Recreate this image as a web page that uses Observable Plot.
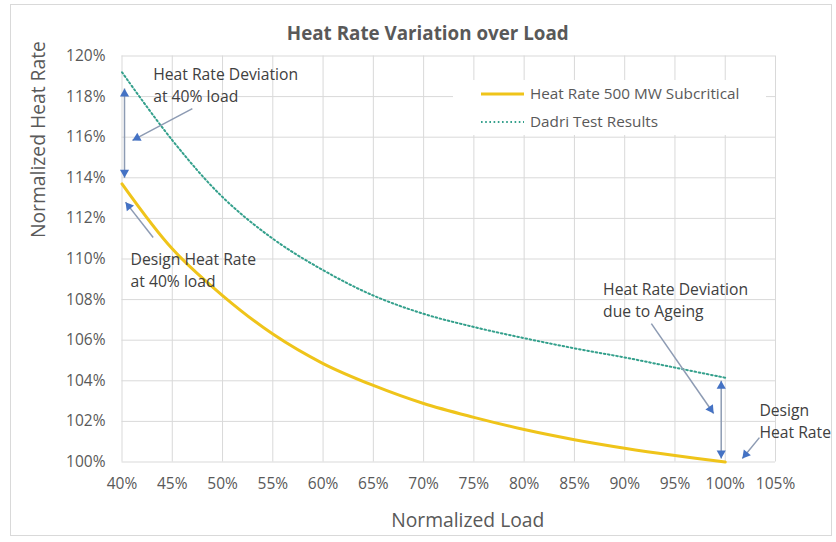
<!DOCTYPE html>
<html>
<head>
<meta charset="utf-8">
<script src="https://cdn.jsdelivr.net/npm/d3@7"></script>
<script src="https://cdn.jsdelivr.net/npm/@observablehq/plot@0.6"></script>
<style>
  html, body { margin: 0; padding: 0; background: #fff; }
  #wrap { position: relative; width: 836px; height: 542px; background: #fff; font-family: "Open Sans", sans-serif; }
  #border { position: absolute; left: 10px; top: 4px; width: 822px; height: 532px; border: 1px solid #d9d9d9; box-sizing: border-box; pointer-events: none; }
  #legend { position: absolute; left: 453px; top: 80px; width: 313px; height: 55px; background: #fff; }
  #legend svg { display: block; }
</style>
</head>
<body>
<div id="wrap"><div id="border"></div></div>
<script>
// ---- data ----
const load = [40, 45, 50, 55, 60, 65, 70, 75, 80, 85, 90, 95, 100];
const heatRate500 = [113.7, 110.5, 108.2, 106.3, 104.85, 103.77, 102.88, 102.2, 101.6, 101.1, 100.68, 100.32, 100.0];
const dadriTest = [119.2, 115.85, 113.05, 111.0, 109.45, 108.2, 107.3, 106.65, 106.1, 105.6, 105.15, 104.65, 104.15];

const seriesNames = ["Heat Rate 500 MW Subcritical", "Dadri Test Results"];
const xTicks = [40, 45, 50, 55, 60, 65, 70, 75, 80, 85, 90, 95, 100, 105];
const yTicks = [100, 102, 104, 106, 108, 110, 112, 114, 116, 118, 120];

const titleText = "Heat Rate Variation over Load";
const xTitle = "Normalized Load";
const yTitle = "Normalized Heat Rate";

// annotation arrows (data units: load %, heat rate %)
const arrowFromLoad = [40.25, 47.0, 43.1, 99.6, 92.65, 103.4];
const arrowFromRate = [114.0, 117.41, 111.06, 100.17, 106.82, 101.2];
const arrowToLoad   = [40.25, 41.04, 40.35, 99.6, 98.85, 101.7];
const arrowToRate   = [118.4, 115.84, 112.8, 104.0, 102.39, 100.17];
const arrowBothEnds = [true, false, false, true, false, false];

// annotation notes (left edge, first-line centre)
const noteText = ["Heat Rate Deviation\nat 40% load", "Design Heat Rate\nat 40% load", "Heat Rate Deviation\ndue to Ageing", "Design\nHeat Rate"];
const noteLoad = [43.1, 40.85, 87.85, 103.4];
const noteRate = [119.19, 110.07, 108.6, 102.64];

// ---- layout ----
const W = 836, H = 542;
const mL = 121.5, mR = 61, mT = 55.5, mB = 80.5;
const xDomain = [40, 105], yDomain = [100, 120];
const kx = (W - mL - mR) / (xDomain[1] - xDomain[0]);
const ky = (H - mT - mB) / (yDomain[1] - yDomain[0]);
const yellow = "#efc41a", green = "#34a08c", headColor = "#4472c4", shaftColor = "#8d9bb3";
const dots = "1.6,2.6";
const font = "'Open Sans', sans-serif";

const rows500 = load.map((l, i) => ({load: l, rate: heatRate500[i]}));
const rowsDadri = load.map((l, i) => ({load: l, rate: dadriTest[i]}));

const links = arrowFromLoad.map((_, i) => ({x1: arrowFromLoad[i], y1: arrowFromRate[i], x2: arrowToLoad[i], y2: arrowToRate[i]}));
const R = 3.4;
const heads = [];
function addHead(tx, ty, fx, fy) {
  const dxp = (tx - fx) * kx, dyp = -(ty - fy) * ky;
  const len = Math.hypot(dxp, dyp);
  const ux = dxp / len, uy = dyp / len;
  const back = 1.556 * R;
  heads.push({
    x: tx - ux * back / kx,
    y: ty + uy * back / ky,
    rot: Math.atan2(dxp, -dyp) * 180 / Math.PI
  });
}
links.forEach((a, i) => {
  addHead(a.x2, a.y2, a.x1, a.y1);
  if (arrowBothEnds[i]) addHead(a.x1, a.y1, a.x2, a.y2);
});
const notes = noteText.map((t, i) => ({text: t, x: noteLoad[i], y: noteRate[i]}));

const chart = Plot.plot({
  width: W, height: H,
  marginLeft: mL, marginRight: mR, marginTop: mT, marginBottom: mB,
  x: {domain: xDomain},
  y: {domain: yDomain},
  style: {fontFamily: font, background: "transparent", overflow: "visible"},
  marks: [
    Plot.gridX(xTicks, {stroke: "#d9d9d9", strokeOpacity: 1, strokeWidth: 1}),
    Plot.gridY(yTicks, {stroke: "#d9d9d9", strokeOpacity: 1, strokeWidth: 1}),
    Plot.axisX(xTicks, {tickSize: 0, tickPadding: 16, tickFormat: d => d + "%", fontSize: 15.5, fill: "#595959", label: null}),
    Plot.axisY(yTicks, {tickSize: 0, tickPadding: 16.5, tickFormat: d => d + "%", fontSize: 15.5, fill: "#595959", label: null}),
    Plot.line(rowsDadri, {x: "load", y: "rate", stroke: green, strokeWidth: 2, strokeDasharray: dots, curve: "catmull-rom"}),
    Plot.line(rows500, {x: "load", y: "rate", stroke: yellow, strokeWidth: 3, curve: "catmull-rom"}),
    Plot.link(links, {x1: "x1", y1: "y1", x2: "x2", y2: "y2", stroke: shaftColor, strokeWidth: 1.5}),
    Plot.dot(heads, {x: "x", y: "y", rotate: "rot", symbol: "triangle", r: R, fill: headColor, stroke: "none"}),
    Plot.text(notes, {x: "x", y: "y", text: "text", textAnchor: "start", lineAnchor: "top", dy: -8, lineHeight: 1.4, fontSize: 15.7, fill: "#404040"}),
    Plot.text([titleText], {frameAnchor: "top", dx: -21, dy: -22.5, lineAnchor: "middle", fontSize: 18.8, fontWeight: "bold", fill: "#595959"}),
    Plot.text([xTitle], {frameAnchor: "bottom", dx: 19, dy: 58.5, lineAnchor: "middle", fontSize: 19.3, fill: "#595959"}),
    Plot.text([yTitle], {frameAnchor: "left", dx: -83.5, dy: -21, rotate: -90, lineAnchor: "middle", fontSize: 19.3, fill: "#595959"})
  ]
});
const wrap = document.getElementById("wrap");
chart.style.position = "absolute";
chart.style.left = "0px";
chart.style.top = "0px";
wrap.appendChild(chart);

// legend overlay (inside plot area, white box)
const leg = d3.select(wrap).append("div").attr("id", "legend");
const lsvg = leg.append("svg").attr("width", 313).attr("height", 55);
const legendStyles = [
  {stroke: yellow, width: 3, dash: null},
  {stroke: green, width: 2, dash: dots}
];
seriesNames.forEach((name, i) => {
  const cy = 14 + i * 28;
  lsvg.append("line").attr("x1", 28).attr("x2", 71).attr("y1", cy).attr("y2", cy)
    .attr("stroke", legendStyles[i].stroke).attr("stroke-width", legendStyles[i].width)
    .attr("stroke-dasharray", legendStyles[i].dash);
  lsvg.append("text").attr("x", 77).attr("y", cy).attr("dy", "0.35em")
    .attr("font-family", font).attr("font-size", 15.3).attr("fill", "#595959").text(name);
});
</script>
</body>
</html>
